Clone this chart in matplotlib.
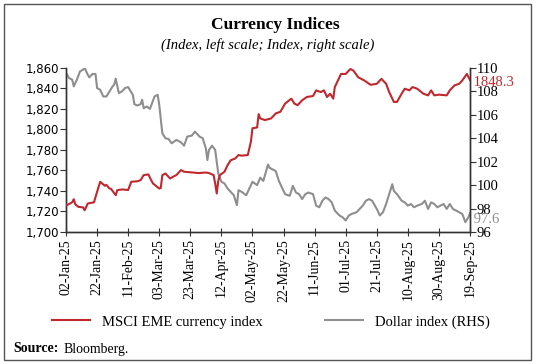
import matplotlib
matplotlib.use("Agg")
import matplotlib.pyplot as plt
from matplotlib.patches import Rectangle
from matplotlib.lines import Line2D
import pandas as pd

msci_dates = ["2025-01-02","2025-01-03","2025-01-06","2025-01-07","2025-01-08","2025-01-10","2025-01-13","2025-01-14",
              "2025-01-16","2025-01-20","2025-01-22","2025-01-24","2025-01-27","2025-01-28","2025-01-30","2025-01-31",
              "2025-02-03","2025-02-04","2025-02-07","2025-02-11","2025-02-13","2025-02-17","2025-02-19","2025-02-21",
              "2025-02-24","2025-02-26","2025-02-27","2025-03-03","2025-03-04","2025-03-05","2025-03-07","2025-03-10",
              "2025-03-12","2025-03-14","2025-03-17","2025-03-19","2025-03-21","2025-03-25","2025-03-28","2025-04-02",
              "2025-04-04","2025-04-07","2025-04-08","2025-04-09","2025-04-10","2025-04-11","2025-04-14","2025-04-16",
              "2025-04-18","2025-04-21","2025-04-23","2025-04-25","2025-04-29","2025-05-01","2025-05-02","2025-05-05",
              "2025-05-06","2025-05-07","2025-05-10","2025-05-14","2025-05-17","2025-05-20","2025-05-23","2025-05-27",
              "2025-05-29","2025-05-31","2025-06-03","2025-06-06","2025-06-10","2025-06-12","2025-06-15","2025-06-17",
              "2025-06-19","2025-06-21","2025-06-23","2025-06-24","2025-06-28","2025-07-01","2025-07-04","2025-07-06",
              "2025-07-09","2025-07-13","2025-07-17","2025-07-21","2025-07-24","2025-07-27","2025-07-29","2025-08-01",
              "2025-08-03","2025-08-06","2025-08-08","2025-08-11","2025-08-13","2025-08-16","2025-08-20","2025-08-23",
              "2025-08-25","2025-08-27","2025-08-30","2025-09-04","2025-09-06","2025-09-09","2025-09-12","2025-09-14",
              "2025-09-17","2025-09-19"]
msci_values = [1726.8,1726.5,1729,1732,1727,1724.5,1724,1721.2,
               1727.8,1729,1739.2,1749,1745.1,1746,1742.4,1742,
               1735.9,1740.8,1741.5,1741,1749,1749.5,1750.6,1755.5,
               1756.2,1750,1747.3,1742.4,1743,1755.5,1757.1,1752.2,
               1754,1755.5,1760.4,1758.8,1758.5,1758,1757.5,1758,
               1757.5,1755.5,1747.3,1737.6,1750,1755.5,1758.8,1765.3,
               1770,1771.8,1775.1,1774.5,1775.1,1788.2,1801.2,1802,
               1815,1810.8,1809.2,1810.8,1815.7,1817.3,1825.3,1830.1,
               1825.3,1823.7,1828.5,1831.7,1832.7,1838.2,1836.5,1838.2,
               1831.7,1834.9,1830.1,1841.4,1854.2,1854.2,1859,1857.4,
               1851,1847.8,1843.6,1844.6,1849.4,1844.6,1836.5,1826.9,
               1826.9,1834.9,1839.8,1838.2,1841.4,1839.8,1834.9,1833.3,
               1838.2,1833.3,1834,1833.3,1838.2,1843,1844.6,1847.8,
               1854.2,1848.3]

dxy_dates = ["2025-01-02","2025-01-04","2025-01-06","2025-01-07","2025-01-09","2025-01-11","2025-01-13","2025-01-14",
             "2025-01-16","2025-01-17","2025-01-19","2025-01-21","2025-01-22","2025-01-24","2025-01-26","2025-01-28",
             "2025-01-30","2025-02-01","2025-02-02","2025-02-03","2025-02-05","2025-02-07","2025-02-09","2025-02-11",
             "2025-02-14","2025-02-15","2025-02-17","2025-02-19","2025-02-20","2025-02-21","2025-02-23","2025-02-25",
             "2025-02-28","2025-03-02","2025-03-03","2025-03-05","2025-03-07","2025-03-09","2025-03-11","2025-03-14",
             "2025-03-17","2025-03-19","2025-03-21","2025-03-24","2025-03-26","2025-03-29","2025-03-31","2025-04-02",
             "2025-04-03","2025-04-04","2025-04-06","2025-04-08","2025-04-10","2025-04-12","2025-04-14","2025-04-16",
             "2025-04-18","2025-04-20","2025-04-22","2025-04-23","2025-04-25","2025-04-28","2025-04-30","2025-05-02",
             "2025-05-05","2025-05-07","2025-05-09","2025-05-12","2025-05-13","2025-05-15","2025-05-17","2025-05-19",
             "2025-05-21","2025-05-23","2025-05-26","2025-05-28","2025-05-30","2025-06-01","2025-06-03","2025-06-05",
             "2025-06-07","2025-06-10","2025-06-12","2025-06-14","2025-06-16","2025-06-18","2025-06-20","2025-06-22",
             "2025-06-24","2025-06-27","2025-06-29","2025-07-01","2025-07-03","2025-07-05","2025-07-08","2025-07-10",
             "2025-07-12","2025-07-14","2025-07-16","2025-07-18","2025-07-21","2025-07-23","2025-07-25","2025-07-27",
             "2025-07-29","2025-07-31","2025-08-01","2025-08-03","2025-08-06","2025-08-08","2025-08-10","2025-08-12",
             "2025-08-14","2025-08-16","2025-08-19","2025-08-21","2025-08-23","2025-08-25","2025-08-27","2025-08-29",
             "2025-09-02","2025-09-04","2025-09-06","2025-09-08","2025-09-10","2025-09-12","2025-09-14","2025-09-16",
             "2025-09-18","2025-09-19"]
dxy_values = [109.57,109.14,109.0,108.43,109.0,109.71,109.86,110.0,
              109.43,109.2,109.49,109.49,108.29,108.14,107.57,107.57,
              108.0,108.43,108.57,109.09,107.86,108.0,108.29,108.37,
              107.71,106.91,106.8,106.91,107.29,106.57,106.71,106.51,
              107.57,107.71,106.86,104.43,104.0,103.94,103.57,103.86,
              103.66,103.37,104.14,104.23,104.57,104.14,104.0,103.14,
              102.14,103.0,103.37,103.0,101.0,100.29,100.14,99.71,
              99.43,99.14,98.29,99.57,99.43,99.14,99.71,100.29,
              100.0,100.64,100.36,101.76,101.48,101.34,101.2,100.36,
              99.79,99.23,99.09,99.94,99.37,99.23,98.81,99.23,
              99.37,99.23,98.25,98.11,98.67,98.95,98.81,98.53,
              97.83,97.41,97.26,96.98,97.41,97.55,97.69,97.97,
              98.25,98.67,98.81,98.67,97.97,97.41,97.69,98.39,
              99.23,100.08,99.51,99.23,98.67,98.53,98.25,98.39,
              98.11,98.25,98.39,98.67,97.97,98.53,98.39,98.11,
              98.39,97.97,98.39,97.97,97.83,97.69,97.55,96.84,
              97.26,97.6]

tick_dates = ["2025-01-02","2025-01-22","2025-02-11","2025-03-03","2025-03-23","2025-04-12","2025-05-02",
              "2025-05-22","2025-06-11","2025-07-01","2025-07-21","2025-08-10","2025-08-30","2025-09-19"]
left_ticks = [1700, 1720, 1740, 1760, 1780, 1800, 1820, 1840, 1860]
right_ticks = [96, 98, 100, 102, 104, 106, 108, 110]

RED = "#C0282E"
GRAY = "#8E8E8E"
SERIF = "Liberation Serif"

fig = plt.figure(figsize=(5.36, 3.64), dpi=100)
fig.patches.append(Rectangle((4/536, 4/364), 527/536, 356/364, transform=fig.transFigure,
                             fill=False, edgecolor="#555555", linewidth=1.0))

ax = fig.add_axes([66/536, (364-232)/364, (470-66)/536, (232-68)/364])
ax2 = ax.twinx()

md = pd.to_datetime(msci_dates)
dd = pd.to_datetime(dxy_dates)
ax.plot(md, msci_values, color=RED, linewidth=1.5, zorder=3)
ax2.plot(dd, dxy_values, color=GRAY, linewidth=1.5, zorder=2)
ax.set_zorder(ax2.get_zorder() + 1)
ax.patch.set_visible(False)

ax.set_xlim(pd.Timestamp("2025-01-02"), pd.Timestamp("2025-09-19"))
ax.set_ylim(1700, 1860)
ax2.set_ylim(96, 110)

ax.set_yticks(left_ticks)
ax.set_yticklabels([f"{v:,}" for v in left_ticks], fontfamily="DejaVu Sans", fontsize=8.5)
ax2.set_yticks(right_ticks)
ax2.set_yticklabels([str(v) for v in right_ticks], fontfamily=SERIF, fontsize=10.5)

tds = pd.to_datetime(tick_dates)
ax.set_xticks(tds)
ax.set_xticklabels([t.strftime("%d-%b-%y") for t in tds], rotation=90, fontfamily=SERIF, fontsize=10)

for a in (ax, ax2):
    a.spines["top"].set_visible(False)
    for s in ("left", "right", "bottom"):
        a.spines[s].set_color("#333333")
        a.spines[s].set_linewidth(1.0)
ax.tick_params(axis="y", direction="out", length=4, color="#333333", pad=1)
ax2.tick_params(axis="y", direction="out", length=4, color="#333333", pad=1)
ax.tick_params(axis="x", direction="inout", length=6, color="#333333", pad=2)

ax2.text(pd.Timestamp("2025-09-19"), 108.8, " 1848.3", color=RED, fontfamily=SERIF, fontsize=10.5,
         va="center", ha="left", clip_on=False)
ax2.text(pd.Timestamp("2025-09-19"), 97.1, " 97.6", color=GRAY, fontfamily=SERIF, fontsize=10.5,
         va="center", ha="left", clip_on=False)

fig.text(275/536, 1 - 25/364, "Currency Indices", ha="center", va="center", fontfamily=SERIF,
         fontweight="bold", fontsize=12.5)
fig.text(268/536, 1 - 45/364, "(Index, left scale; Index, right scale)", ha="center", va="center",
         fontfamily=SERIF, fontstyle="italic", fontsize=10.5)

handles = [Line2D([], [], color=RED, linewidth=1.5), Line2D([], [], color=GRAY, linewidth=1.5)]
fig.legend(handles, ["MSCI EME currency index", "Dollar index (RHS)"], loc="center",
           bbox_to_anchor=(0.505, 1 - 322/364), ncol=2, frameon=False, columnspacing=4.3,
           handlelength=2.6, prop={"family": SERIF, "size": 10.5})

fig.text(13/536, 1 - 349/364, "Source:", fontfamily=SERIF, fontweight="bold", fontsize=10, va="center")
fig.text(64/536, 1 - 349/364, "Bloomberg.", fontfamily=SERIF, fontsize=10, va="center")

fig.savefig("out.png", dpi=100)
